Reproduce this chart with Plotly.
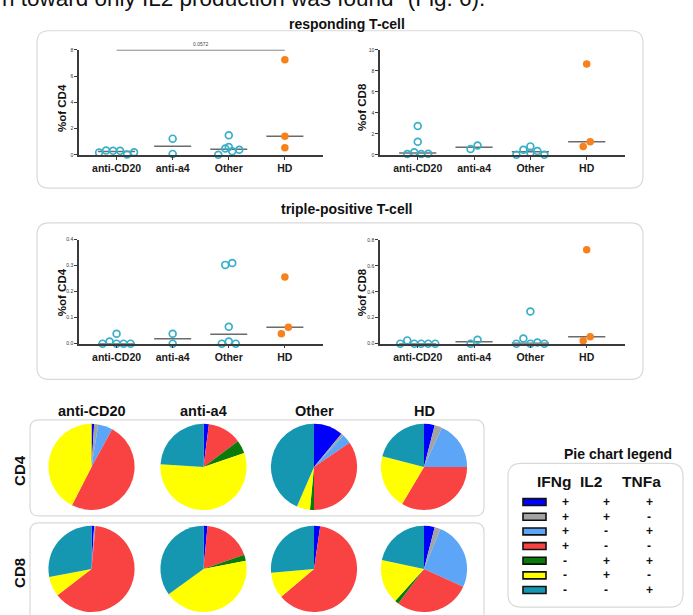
import numpy as np
import plotly.graph_objects as go

W, H = 693, 615
FONT = "Liberation Sans, Arial, sans-serif"

# ---------------- data ----------------
groups = ["anti-CD20", "anti-a4", "Other", "HD"]

# responding T-cell (% of CD4)
resp_cd4_anti_cd20 = [0.18, 0.32, 0.30, 0.30, 0.02, 0.20]
resp_cd4_anti_a4 = [1.23, 0.07]
resp_cd4_other = [0.60, 0.00, 0.48, 1.49, 0.28, 0.38]
resp_cd4_hd = [7.25, 1.41, 0.53]

# responding T-cell (% of CD8)
resp_cd8_anti_cd20 = [0.07, 0.25, 2.75, 1.25, 0.07, 0.10]
resp_cd8_anti_a4 = [0.55, 0.88]
resp_cd8_other = [0.00, 0.48, 0.20, 0.36, 0.80, 0.00]
resp_cd8_hd = [8.65, 0.80, 1.25]

# triple-positive T-cell (% of CD4)
trip_cd4_anti_cd20 = [0.0, 0.008, 0.038, 0.0, 0.0, 0.0]
trip_cd4_anti_a4 = [0.038, 0.0]
trip_cd4_other = [0.0, 0.303, 0.065, 0.008, 0.310, 0.0]
trip_cd4_hd = [0.256, 0.038, 0.063]

# triple-positive T-cell (% of CD8)
trip_cd8_anti_cd20 = [0.0, 0.025, 0.0, 0.0, 0.0, 0.0]
trip_cd8_anti_a4 = [0.0, 0.030]
trip_cd8_other = [0.0, 0.040, 0.248, 0.0, 0.008, 0.0]
trip_cd8_hd = [0.725, 0.022, 0.053]

y_tick_labels_resp_cd4 = ["0", "2", "4", "6", "8"]
y_tick_labels_resp_cd8 = ["0", "2", "4", "6", "8", "10"]
y_tick_labels_trip_cd4 = ["0.0", "0.1", "0.2", "0.3", "0.4"]
y_tick_labels_trip_cd8 = ["0.0", "0.2", "0.4", "0.6", "0.8"]

sig_label = "0.0572"   # anti-CD20 vs HD, responding CD4

# pie fractions (%): IFNg/IL2/TNFa combinations
pie_subsets = ["IFNg+IL2+TNFa+", "IFNg+IL2+TNFa-", "IFNg+IL2-TNFa+", "IFNg+IL2-TNFa-",
               "IFNg-IL2+TNFa+", "IFNg-IL2+TNFa-", "IFNg-IL2-TNFa+"]
pie_cd4_anti_cd20 = [1.0, 1.5, 5.5, 49.5, 0.0, 42.5, 0.0]
pie_cd4_anti_a4 = [2.0, 0.0, 0.0, 12.8, 5.0, 56.2, 24.0]
pie_cd4_other = [11.0, 1.0, 3.5, 34.5, 1.5, 5.0, 43.5]
pie_cd4_hd = [4.0, 2.8, 18.2, 33.5, 0.0, 20.5, 21.0]
pie_cd8_anti_cd20 = [1.0, 0.5, 0.0, 63.0, 0.0, 7.5, 28.0]
pie_cd8_anti_a4 = [1.5, 0.0, 0.0, 18.2, 2.3, 43.0, 35.0]
pie_cd8_other = [2.3, 0.0, 0.0, 61.5, 0.0, 9.8, 26.4]
pie_cd8_hd = [4.0, 2.2, 25.6, 28.4, 1.5, 16.6, 21.7]

legend_ifng = ["+", "+", "+", "+", "-", "-", "-"]
legend_il2 = ["+", "+", "-", "-", "+", "+", "-"]
legend_tnfa = ["+", "-", "+", "-", "+", "-", "+"]

# ---------------- styles / layout ----------------
pie_colors = ["#0000FF", "#A3A3A3", "#5CA5F7", "#F94343", "#0A7A0A", "#FFFF00", "#1597B1"]
TEAL = "#37AFC8"
ORANGE = "#F7811C"
XR = (-0.67, 3.68)

panels = [
    dict(vals=[resp_cd4_anti_cd20, resp_cd4_anti_a4, resp_cd4_other, resp_cd4_hd],
         ticks=y_tick_labels_resp_cd4, title="%of CD4", box=(79, 323, 47.3, 153.3), ty=106, tx=62),
    dict(vals=[resp_cd8_anti_cd20, resp_cd8_anti_a4, resp_cd8_other, resp_cd8_hd],
         ticks=y_tick_labels_resp_cd8, title="%of CD8", box=(380, 625, 47.3, 153.3), ty=105, tx=362),
    dict(vals=[trip_cd4_anti_cd20, trip_cd4_anti_a4, trip_cd4_other, trip_cd4_hd],
         ticks=y_tick_labels_trip_cd4, title="%of CD4", box=(79, 323, 239, 344), ty=292, tx=62),
    dict(vals=[trip_cd8_anti_cd20, trip_cd8_anti_a4, trip_cd8_other, trip_cd8_hd],
         ticks=y_tick_labels_trip_cd8, title="%of CD8", box=(380, 625, 239.3, 344), ty=292, tx=362),
]


def X(x):
    return x / W


def Y(y):
    return 1 - y / H


def note(x, y, text, size, **kw):
    d = dict(x=X(x), y=Y(y), xref="paper", yref="paper", text=text, showarrow=False,
             xanchor="center", yanchor="middle", font=dict(size=size, color="#111", family=FONT))
    d.update(kw)
    return d


def swarm(vals, ppu_y, ppu_x, d=7.0):
    vals = np.asarray(vals, float)
    order = np.argsort(vals, kind="stable")
    rows = []
    for i in order:
        if rows and (vals[i] - vals[rows[-1][0]]) * ppu_y < d:
            rows[-1].append(i)
        else:
            rows.append([i])
    offs = np.zeros(len(vals))
    for r in rows:
        r = sorted(r)
        n = len(r)
        for k, i in enumerate(r):
            offs[i] = (k - (n - 1) / 2) * d / ppu_x
    return offs


fig = go.Figure()
layout = dict(width=W, height=H, margin=dict(l=0, r=0, t=0, b=0),
              paper_bgcolor="white", plot_bgcolor="rgba(0,0,0,0)",
              showlegend=False, font=dict(family=FONT, color="#222"))
annotations = []
shapes = []

for pi, p in enumerate(panels, start=1):
    x0, x1, y0, y1 = p["box"]
    tickvals = [float(t) for t in p["ticks"]]
    ymax = tickvals[-1]
    ppu_y = (y1 - y0) / ymax
    ppu_x = (x1 - x0) / (XR[1] - XR[0])
    xa = "x" if pi == 1 else f"x{pi}"
    ya = "y" if pi == 1 else f"y{pi}"
    for gi, vals in enumerate(p["vals"]):
        med = float(np.median(vals))
        fig.add_trace(go.Scatter(x=[gi - 0.33, gi + 0.33], y=[med, med], mode="lines",
                                 line=dict(color="#6B6B6B", width=1.5), xaxis=xa, yaxis=ya,
                                 hoverinfo="skip", cliponaxis=False))
    for gi, vals in enumerate(p["vals"]):
        offs = swarm(vals, ppu_y, ppu_x)
        hd = groups[gi] == "HD"
        fig.add_trace(go.Scatter(
            x=gi + offs, y=vals, mode="markers", xaxis=xa, yaxis=ya, cliponaxis=False,
            marker=dict(symbol="circle" if hd else "circle-open", size=7.5 if hd else 6.8,
                        color=ORANGE if hd else TEAL,
                        line=dict(width=0 if hd else 1.7, color=ORANGE if hd else TEAL))))
    if pi == 1:
        fig.add_trace(go.Scatter(x=[0, 3], y=[ymax, ymax], mode="lines", xaxis=xa, yaxis=ya,
                                 line=dict(color="#555", width=1.3), cliponaxis=False))
        annotations.append(dict(x=1.5, y=ymax, xref="x", yref="y", text=sig_label, showarrow=False,
                                xanchor="center", yanchor="bottom",
                                font=dict(size=5, color="#444"), yshift=1))
    layout["xaxis" if pi == 1 else f"xaxis{pi}"] = dict(
        domain=[X(x0), X(x1)], anchor=ya, range=list(XR), tickvals=[0, 1, 2, 3],
        ticktext=[f"<b>{g}</b>" for g in groups], showline=True, linecolor="#3A3A3A", linewidth=1.6,
        ticks="outside", ticklen=3, tickwidth=1.3, tickcolor="#3A3A3A", showgrid=False, zeroline=False,
        tickfont=dict(size=10.5, color="#1A1A1A", family=FONT), fixedrange=True)
    layout["yaxis" if pi == 1 else f"yaxis{pi}"] = dict(
        domain=[Y(y1), Y(y0)], anchor=xa, range=[0, ymax], tickvals=tickvals, ticktext=p["ticks"],
        showline=True, linecolor="#3A3A3A", linewidth=1.6, ticks="outside", ticklen=3, tickwidth=1.1,
        tickcolor="#3A3A3A", showgrid=False, zeroline=False,
        tickfont=dict(size=5, color="#333", family=FONT), fixedrange=True)
    annotations.append(note(p["tx"], p["ty"], f"<b>{p['title']}</b>", 11.5, textangle=-90))

# ---------------- pies ----------------
pie_rows = [
    ("CD4", [pie_cd4_anti_cd20, pie_cd4_anti_a4, pie_cd4_other, pie_cd4_hd], 425, 512),
    ("CD8", [pie_cd8_anti_cd20, pie_cd8_anti_a4, pie_cd8_other, pie_cd8_hd], 528, 615),
]
pie_cols = [(48, 135), (160, 247), (270, 358), (380, 468)]
for rname, rvals, ry0, ry1 in pie_rows:
    for (cx0, cx1), vals in zip(pie_cols, rvals):
        fig.add_trace(go.Pie(values=vals, labels=pie_subsets, sort=False, direction="clockwise",
                             rotation=0, textinfo="none", hoverinfo="label+percent",
                             marker=dict(colors=pie_colors, line=dict(width=0)),
                             domain=dict(x=[X(cx0), X(cx1)], y=[Y(ry1), Y(ry0)])))
    annotations.append(note(20, (ry0 + ry1) / 2 + 4, f"<b>{rname}</b>", 15, textangle=-90))
for (cx0, cx1), g in zip(pie_cols, groups):
    annotations.append(note((cx0 + cx1) / 2, 412, f"<b>{g}</b>", 14.5))

# ---------------- boxes ----------------
def rrect(x0, y0, x1, y1, r):
    return (f"M {X(x0 + r)},{Y(y0)} L {X(x1 - r)},{Y(y0)} Q {X(x1)},{Y(y0)} {X(x1)},{Y(y0 + r)} "
            f"L {X(x1)},{Y(y1 - r)} Q {X(x1)},{Y(y1)} {X(x1 - r)},{Y(y1)} "
            f"L {X(x0 + r)},{Y(y1)} Q {X(x0)},{Y(y1)} {X(x0)},{Y(y1 - r)} "
            f"L {X(x0)},{Y(y0 + r)} Q {X(x0)},{Y(y0)} {X(x0 + r)},{Y(y0)} Z")


for bx in [(37, 28, 643, 187, 12), (37, 222, 643, 380, 12), (30, 421, 484, 518, 9),
           (30, 525, 484, 650, 9), (508, 465, 683, 610, 13)]:
    shapes.append(dict(type="path", xref="paper", yref="paper", path=rrect(*bx), layer="below",
                       line=dict(color="#D9D9D9", width=1.2)))

# ---------------- titles ----------------
annotations.append(note(0, 10, 'n toward only IL2 production was found" (Fig. 6).', 22.5,
                        xanchor="left", yanchor="bottom"))
annotations.append(note(347, 21, "<b>responding T-cell</b>", 14))
annotations.append(note(347, 208, "<b>triple-positive T-cell</b>", 14))

# ---------------- pie legend ----------------
annotations.append(note(618, 455, "<b>Pie chart legend</b>", 14))
for txt, cx in [("IFNg", 554), ("IL2", 591), ("TNFa", 641)]:
    annotations.append(note(cx, 483, f"<b>{txt}</b>", 15.5))
row_y0, row_dy = 504, 14.8
for k, col in enumerate(pie_colors):
    yy = row_y0 + k * row_dy
    shapes.append(dict(type="rect", xref="paper", yref="paper", x0=X(523), x1=X(546),
                       y0=Y(yy + 3.5), y1=Y(yy - 3.5), fillcolor=col, line=dict(color="#111", width=1.6)))
    for signs, cx in [(legend_ifng, 565), (legend_il2, 606), (legend_tnfa, 649)]:
        annotations.append(note(cx, yy, f"<b>{signs[k]}</b>", 12))

layout["annotations"] = annotations
layout["shapes"] = shapes
fig.update_layout(**layout)
fig.write_html("out.html", config={"displayModeBar": False},
               post_script="document.body.style.margin='0';document.body.style.padding='0';")
